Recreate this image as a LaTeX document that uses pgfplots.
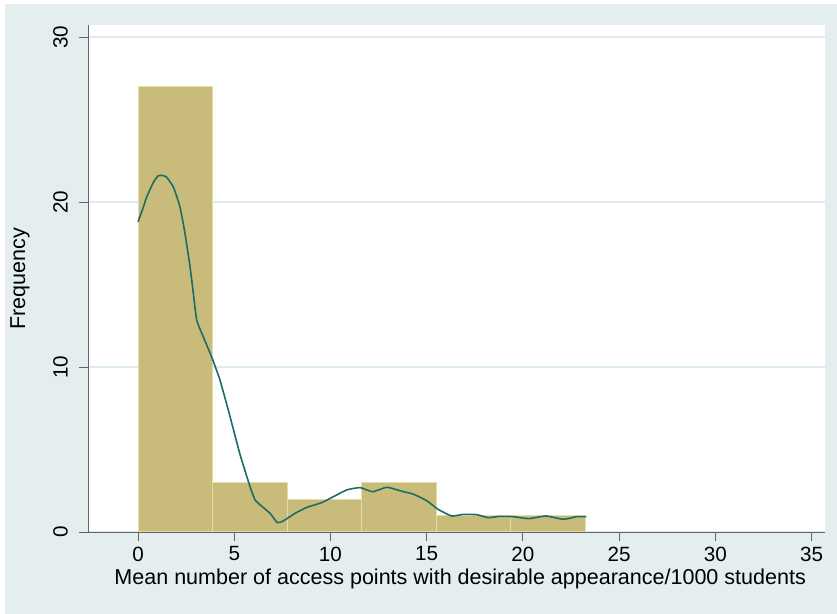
\documentclass[border=0pt]{standalone}
\usepackage{pgfplots}
\pgfplotsset{compat=1.18}
\usepackage{fontspec}
\setmainfont{Liberation Sans}
\definecolor{bgblue}{RGB}{228,238,238}
\definecolor{barfill}{RGB}{201,188,122}
\definecolor{baredge}{RGB}{228,220,170}
\definecolor{kdeline}{RGB}{30,108,104}
\definecolor{gridc}{RGB}{222,235,238}
\definecolor{axisc}{RGB}{100,100,100}

\begin{document}
\begin{tikzpicture}
\fill[white] (0,0) rectangle (837bp,614bp);
\fill[bgblue] (5bp,0) rectangle (837bp,610bp);
\begin{axis}[
    at={(88bp,82bp)}, anchor=south west,
    scale only axis,
    width=737bp, height=507bp,
    xmin=-2.6, xmax=35.7,
    ymin=0, ymax=30.73,
    axis background/.style={fill=white},
    axis x line*=bottom, axis y line*=left,
    axis line style={axisc, line width=0.8bp},
    tick style={axisc, line width=0.8bp},
    tick align=outside,
    major tick length=9bp,
    xtick={0,5,...,35}, ytick={0,10,20,30},
    ymajorgrids, grid style={gridc, line width=1.2bp},
    /pgf/number format/assume math mode=true,
    tick label style={font=\fontsize{20.7}{22}\selectfont, inner sep=0pt},
    label style={font=\fontsize{21.6}{23}\selectfont, inner sep=0pt},
    xticklabel style={anchor=center, yshift=-13bp},
    yticklabel style={xshift=-11bp, rotate=90, anchor=south},
    xlabel={Mean number of access points with desirable appearance/1000 students},
    ylabel={Frequency},
    xlabel style={at={(axis description cs:0.505,-0.0927)}, anchor=center},
    ylabel style={at={(axis description cs:-0.0923,0.5)}, anchor=center},
    clip=false,
]
% histogram bins (width 3.875)
\addplot[ybar interval, fill=barfill, draw=baredge, line width=1bp]
coordinates {
    (0,27) (3.875,3) (7.75,2) (11.625,3) (15.5,1) (19.375,1) (23.25,1)
};
% kernel density, scaled to frequency
\addplot[kdeline, line width=1.6bp, smooth, tension=0.3]
coordinates {
    (0,18.8) (0.25,19.6) (0.45,20.3) (0.8,21.2) (1.06,21.6) (1.3,21.6)
    (1.49,21.5) (1.84,20.9) (2.18,19.7) (2.44,18.1) (2.7,16.1) (2.87,14.5)
    (3.05,12.85) (3.4,11.8) (3.83,10.6) (4.26,9.2) (4.78,7.0) (5.3,4.7)
    (5.82,2.75) (6.08,1.94) (6.25,1.74) (6.86,1.13) (7.24,0.57) (7.55,0.67)
    (8.16,1.13) (8.77,1.49) (9.55,1.78) (10.15,2.14) (10.85,2.55) (11.54,2.69)
    (12.2,2.44) (12.93,2.71) (13.8,2.44) (14.3,2.3) (15.0,1.9) (15.6,1.37)
    (16.3,0.97) (16.9,1.07) (17.6,1.05) (18.2,0.87) (18.8,0.95) (19.5,0.93)
    (20.3,0.81) (21.2,0.97) (22.1,0.77) (22.8,0.93) (23.3,0.93)
};
\end{axis}
\end{tikzpicture}
\end{document}
